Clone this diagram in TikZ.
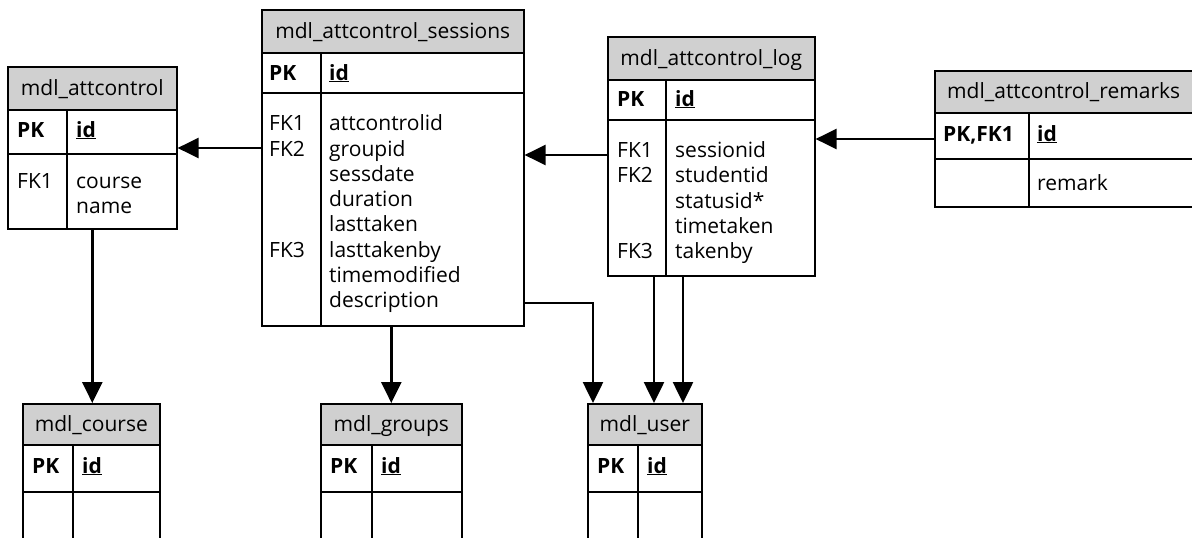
\documentclass[tikz,border=0pt]{standalone}
\usepackage{fontspec}
\setmainfont{Open Sans}
\usetikzlibrary{arrows.meta}
\definecolor{hdrgray}{RGB}{208,208,208}
\newcommand{\tblfont}{\fontsize{21}{25}\selectfont}
\tikzset{
  tbox/.style={draw, line width=1.6pt, fill=white, anchor=north west, inner sep=0pt},
  thead/.style={draw, line width=1.6pt, fill=hdrgray, anchor=north west, inner sep=0pt,
    text height=14pt, text depth=0pt, font=\tblfont},
  rule/.style={line width=1.6pt},
  txt/.style={anchor=base west, inner sep=0pt, font=\tblfont},
  keytxt/.style={anchor=base west, inner sep=0pt, font=\tblfont\bfseries},
  fk/.style={line width=2.6pt, -{Triangle[length=21pt,width=20pt]}},
}
\newcommand{\pkid}{\underline{\textbf{id}}}
\begin{document}
\begin{tikzpicture}[x=1pt,y=-1pt]
\useasboundingbox (0,0) rectangle (1192,538);
\clip (0,0) rectangle (1192,538);

% mdl_attcontrol
\node[tbox, minimum width=169pt, minimum height=162pt] (att) at (7,66) {};
\node[thead, minimum width=169pt, minimum height=43pt] (att-h) at (7,66) {mdl\_attcontrol};
\draw[rule] (att.west |- 0,154) -- (att.east |- 0,154);
\draw[rule] (att-h.south -| 67,0) -- (att.south -| 67,0);
\node[keytxt] (att-pk) at (17,137) {PK};
\node[txt] (att-id) at (76,137) {\pkid};
\node[txt] (att-fk1) at (17,188) {FK1};
\foreach [count=\i] \f in {course,name}
  \node[txt] (att-f\i) at (76,{188+25.3*(\i-1)}) {\f};

% mdl_attcontrol_sessions
\node[tbox, minimum width=262pt, minimum height=316pt] (ses) at (261,9) {};
\node[thead, minimum width=262pt, minimum height=43pt] (ses-h) at (261,9) {mdl\_attcontrol\_sessions};
\draw[rule] (ses.west |- 0,93) -- (ses.east |- 0,93);
\draw[rule] (ses-h.south -| 321,0) -- (ses.south -| 321,0);
\node[keytxt] (ses-pk) at (269,80) {PK};
\node[txt] (ses-id) at (329,80) {\pkid};
\foreach [count=\i] \f in {attcontrolid,groupid,sessdate,duration,lasttaken,lasttakenby,timemodified,description}
  \node[txt] (ses-f\i) at (329,{130.7+25.3*(\i-1)}) {\f};
\node[txt] (ses-fk1) at (269,130.7) {FK1};
\node[txt] (ses-fk2) at (269,156) {FK2};
\node[txt] (ses-fk3) at (269,257.2) {FK3};

% mdl_attcontrol_log
\node[tbox, minimum width=207pt, minimum height=239pt] (log) at (607,36) {};
\node[thead, minimum width=207pt, minimum height=43pt] (log-h) at (607,36) {mdl\_attcontrol\_log};
\draw[rule] (log.west |- 0,120) -- (log.east |- 0,120);
\draw[rule] (log-h.south -| 666,0) -- (log.south -| 666,0);
\node[keytxt] (log-pk) at (617,106) {PK};
\node[txt] (log-id) at (675,106) {\pkid};
\foreach [count=\i] \f in {sessionid,studentid,statusid*,timetaken,takenby}
  \node[txt] (log-f\i) at (675,{157.5+25.3*(\i-1)}) {\f};
\node[txt] (log-fk1) at (617,157.5) {FK1};
\node[txt] (log-fk2) at (617,182.8) {FK2};
\node[txt] (log-fk3) at (617,258.7) {FK3};

% mdl_attcontrol_remarks
\node[tbox, minimum width=270pt, minimum height=136pt] (rem) at (934,70) {};
\node[thead, minimum width=270pt, minimum height=42pt] (rem-h) at (934,70) {};
\node[anchor=base west, inner sep=0pt, font=\tblfont] (rem-t) at (947,98) {mdl\_attcontrol\_remarks};
\draw[rule] (rem.west |- 0,159) -- (rem.east |- 0,159);
\draw[rule] (rem-h.south -| 1029,0) -- (rem.south -| 1029,0);
\node[keytxt] (rem-pk) at (943,141) {PK,FK1};
\node[txt] (rem-id) at (1037,141) {\pkid};
\node[txt] (rem-f1) at (1037,190.7) {remark};

% mdl_course
\node[tbox, minimum width=137pt, minimum height=160pt] (crs) at (22,403) {};
\node[thead, minimum width=137pt, minimum height=41pt] (crs-h) at (22,403) {mdl\_course};
\draw[rule] (crs.west |- 0,492) -- (crs.east |- 0,492);
\draw[rule] (crs-h.south -| 73,0) -- (crs.south -| 73,0);
\node[keytxt] (crs-pk) at (32,473) {PK};
\node[txt] (crs-id) at (82,473) {\pkid};

% mdl_groups
\node[tbox, minimum width=141pt, minimum height=160pt] (grp) at (320,403) {};
\node[thead, minimum width=141pt, minimum height=41pt] (grp-h) at (320,403) {mdl\_groups};
\draw[rule] (grp.west |- 0,492) -- (grp.east |- 0,492);
\draw[rule] (grp-h.south -| 372,0) -- (grp.south -| 372,0);
\node[keytxt] (grp-pk) at (330,473) {PK};
\node[txt] (grp-id) at (381,473) {\pkid};

% mdl_user
\node[tbox, minimum width=114pt, minimum height=160pt] (usr) at (587,403) {};
\node[thead, minimum width=114pt, minimum height=41pt] (usr-h) at (587,403) {mdl\_user};
\draw[rule] (usr.west |- 0,492) -- (usr.east |- 0,492);
\draw[rule] (usr-h.south -| 638,0) -- (usr.south -| 638,0);
\node[keytxt] (usr-pk) at (597,473) {PK};
\node[txt] (usr-id) at (647,473) {\pkid};

% foreign key references
\draw[fk] (ses.west |- 0,148) -- (att.east |- 0,148);
\draw[fk] (log.west |- 0,155) -- (ses.east |- 0,155);
\draw[fk] (rem.west |- 0,139) -- (log.east |- 0,139);
\draw[fk] (att.south) -- (att.south |- crs.north);
\draw[fk] (grp.north |- ses.south) -- (grp.north);
\coordinate (u0) at ([xshift=6pt]usr.north west);
\draw[fk] (ses.east |- 0,303) -| (u0);
\coordinate (u1) at ([xshift=47pt]log.south west);
\coordinate (u2) at ([xshift=76pt]log.south west);
\draw[fk] (u1) -- (u1 |- usr.north);
\draw[fk] (u2) -- (u2 |- usr.north);
\end{tikzpicture}
\end{document}
